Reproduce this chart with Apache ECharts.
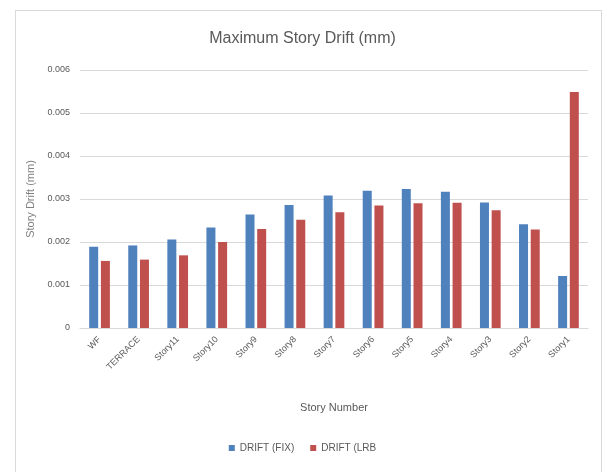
<!DOCTYPE html>
<html>
<head>
<meta charset="utf-8">
<script src="https://cdn.jsdelivr.net/npm/echarts@6/dist/echarts.min.js"></script>
<style>
  html, body { margin:0; padding:0; background:#fff; }
  #frame { position:absolute; left:15px; top:10px; width:587px; height:470px; border:1px solid #d9d9d9; box-sizing:border-box; }
  #chart { position:absolute; left:0; top:0; width:605px; height:472px; }
</style>
</head>
<body>
<div id="frame"></div>
<div id="chart"></div>
<script>
var stories = ['WF','TERRACE','Story11','Story10','Story9','Story8','Story7','Story6','Story5','Story4','Story3','Story2','Story1'];
var driftFix = [0.00189,0.00192,0.00206,0.00234,0.00264,0.00286,0.00308,0.00319,0.00323,0.00317,0.00292,0.00241,0.00121];
var driftLrb = [0.00156,0.00159,0.00169,0.00200,0.00230,0.00252,0.00269,0.00285,0.00290,0.00291,0.00274,0.00229,0.00549];
var seriesNames = ['DRIFT (FIX)','DRIFT (LRB'];

var labelFont = '"Liberation Sans", sans-serif';

var myDriftChart;
function drift(id){
	var option = {
		title: {
			text: 'Maximum Story Drift (mm)',
			left: 'center',
			top: 26,
			textStyle: {
				fontSize: 16,
				fontWeight: 'normal',
				color: '#595959',
				fontFamily: labelFont
			}
		},
		legend: {
			data: seriesNames,
			bottom: 14,
			left: 'center',
			itemWidth: 6,
			itemHeight: 6,
			itemGap: 16,
			icon: 'rect',
			textStyle: { fontSize: 10, color: '#595959', fontFamily: labelFont }
		},
		grid: {
			left: 80,
			right: 17,
			top: 70,
			bottom: 144
		},
		xAxis: {
			type: 'category',
			data: stories,
			name: 'Story Number',
			nameLocation: 'middle',
			nameGap: 74,
			nameTextStyle: { fontSize: 11, color: '#595959', fontFamily: labelFont },
			axisTick: { show: false },
			axisLine: { lineStyle: { color: '#d9d9d9' } },
			axisLabel: {
				rotate: 45,
				interval: 0,
				fontSize: 9,
				color: '#595959',
				fontFamily: labelFont,
				margin: 10
			}
		},
		yAxis: {
			type: 'value',
			min: 0,
			max: 0.006,
			interval: 0.001,
			name: 'Story Drift (mm)',
			nameLocation: 'middle',
			nameGap: 40,
			nameTextStyle: { fontSize: 11, color: '#7f7f7f', fontFamily: labelFont },
			axisLabel: {
				fontSize: 9,
				color: '#595959',
				fontFamily: labelFont,
				margin: 10,
				formatter: function (v) {
					return v === 0 ? '0' : v.toFixed(3);
				}
			},
			splitLine: { lineStyle: { color: '#d9d9d9' } }
		},
		series: [{
			name: seriesNames[0],
			type: 'bar',
			data: driftFix,
			barWidth: 9,
			barGap: '30%',
			itemStyle: { color: '#4F81BD' }
		}, {
			name: seriesNames[1],
			type: 'bar',
			data: driftLrb,
			barWidth: 9,
			itemStyle: { color: '#C0504D' }
		}]
	};

	myDriftChart = echarts.init(document.getElementById(id));
	myDriftChart.setOption(option, true);
}
drift('chart');
</script>
</body>
</html>
